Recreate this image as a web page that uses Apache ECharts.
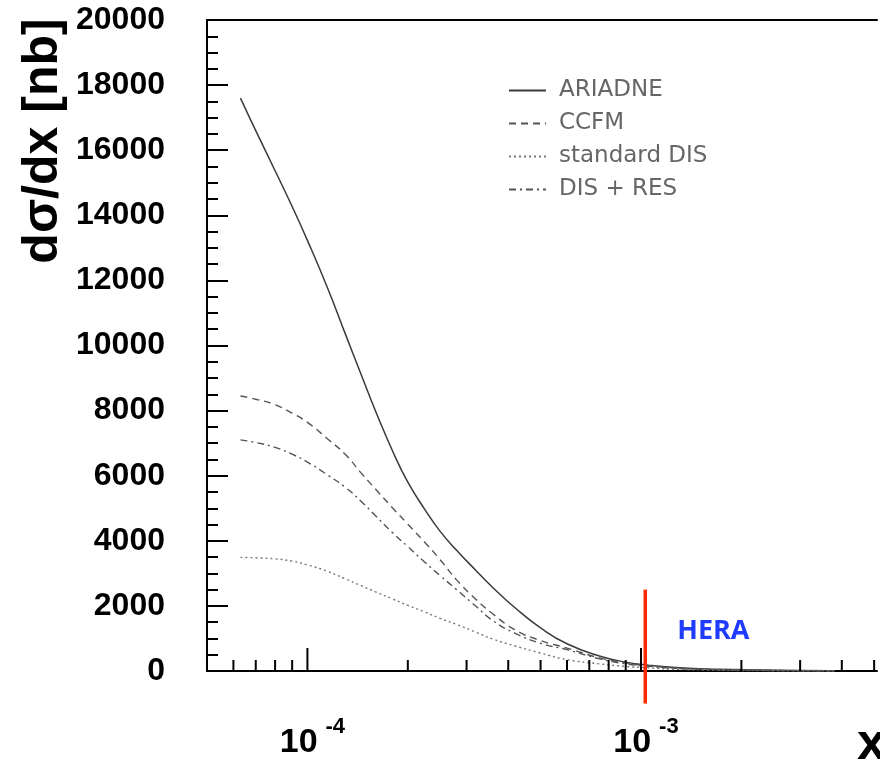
<!DOCTYPE html>
<html>
<head>
<meta charset="utf-8">
<script src="https://cdn.jsdelivr.net/npm/echarts@6/dist/echarts.min.js"></script>
<style>
  html, body { margin: 0; padding: 0; background: #fff; }
  #chart { width: 880px; height: 775px; }
</style>
</head>
<body>
<div id="chart"></div>
<script>
// x values (Bjorken x) shared by all four curves
var xValues = [6.3e-5, 7e-5, 8e-5, 9e-5, 1e-4, 1.15e-4, 1.3e-4, 1.45e-4, 1.6e-4, 1.8e-4,
  2e-4, 2.25e-4, 2.5e-4, 2.8e-4, 3.2e-4, 3.6e-4, 4.2e-4, 5e-4, 6e-4, 7.5e-4,
  9e-4, 1.05e-3, 1.3e-3, 1.7e-3, 2.3e-3, 3e-3, 3.8e-3];

// dsigma/dx [nb]
var ariadne = [17600, 16600, 15370, 14270, 13230, 11760, 10350, 9100, 7990, 6760,
  5800, 4960, 4290, 3710, 3090, 2560, 1935, 1325, 836, 461,
  273, 180, 100, 55, 30, 15, 8];
var ccfm = [8450, 8350, 8180, 7920, 7640, 7130, 6650, 6080, 5590, 5010,
  4510, 3950, 3420, 2800, 2200, 1750, 1260, 935, 705, 405,
  250, 160, 80, 40, 20, 10, 5];
var standardDis = [3490, 3478, 3445, 3375, 3260, 3060, 2830, 2620, 2432, 2213,
  2015, 1812, 1615, 1430, 1192, 980, 768, 552, 350, 220,
  140, 95, 50, 25, 12, 6, 3];
var disRes = [7100, 7020, 6870, 6660, 6420, 6020, 5640, 5210, 4770, 4250,
  3820, 3340, 2930, 2500, 1990, 1545, 1157, 850, 655, 375,
  220, 145, 75, 38, 18, 9, 5];

// HERA marker
var heraX = 1.03e-3;
var heraRange = [-1000, 2500];

// x axis tick positions (log axis)
var majorTicks = [1e-4, 1e-3];
var minorTicks = [6e-5, 7e-5, 8e-5, 9e-5,
  2e-4, 3e-4, 4e-4, 5e-4, 6e-4, 7e-4, 8e-4, 9e-4,
  2e-3, 3e-3, 4e-3, 5e-3];

function pairs(ys) {
  return xValues.map(function (x, i) { return [x, ys[i]]; });
}

function tickSeries(values, len) {
  return {
    type: 'custom',
    xAxisIndex: 0,
    yAxisIndex: 0,
    silent: true,
    z: 5,
    data: values.map(function (v) { return [v, 0]; }),
    renderItem: function (params, api) {
      var p = api.coord([api.value(0), 0]);
      return {
        type: 'line',
        shape: { x1: p[0], y1: p[1], x2: p[0], y2: p[1] - len },
        style: { stroke: '#000', lineWidth: 2 }
      };
    }
  };
}

var chart = echarts.init(document.getElementById('chart'));

chart.setOption({
  animation: false,
  backgroundColor: '#fff',
  grid: { left: 207, top: 20, right: 0, bottom: 104 },
  legend: {
    orient: 'vertical',
    left: 503,
    top: 74,
    itemWidth: 37,
    itemHeight: 14,
    itemGap: 10,
    data: ['ARIADNE', 'CCFM', 'standard DIS', 'DIS + RES'],
    itemStyle: { color: 'rgba(0,0,0,0)', borderWidth: 0, opacity: 0 },
    textStyle: { fontFamily: 'DejaVu Sans', fontSize: 23, color: '#666', padding: [0, 0, 0, 8] }
  },
  xAxis: [{
    type: 'log',
    logBase: 10,
    min: 5e-5,
    max: 5.1e-3,
    axisLine: { lineStyle: { color: '#000', width: 2 } },
    axisTick: { show: false },
    splitLine: { show: false },
    axisLabel: {
      margin: 45,
      padding: [0, 0, 0, 10],
      formatter: function (v) {
        var e = Math.round(Math.log10(v));
        if (Math.abs(Math.log10(v) - e) > 1e-6 || e > -3) return '';
        return '{b|10}{s|' + e + '}';
      },
      rich: {
        b: { fontFamily: 'Liberation Sans', fontWeight: 'bold', fontSize: 34, color: '#000', verticalAlign: 'bottom' },
        s: { fontFamily: 'Liberation Sans', fontWeight: 'bold', fontSize: 22, color: '#000', padding: [0, 0, 22, 8], verticalAlign: 'bottom' }
      }
    }
  }, {
    type: 'value',
    position: 'top',
    min: 0,
    max: 1,
    axisLine: { show: true, onZero: false, lineStyle: { color: '#000', width: 2 } },
    axisTick: { show: false },
    axisLabel: { show: false },
    splitLine: { show: false }
  }],
  yAxis: {
    type: 'value',
    min: 0,
    max: 20000,
    interval: 2000,
    axisLine: { show: true, lineStyle: { color: '#000', width: 2 } },
    axisTick: { inside: true, length: 21, lineStyle: { color: '#000', width: 2 } },
    minorTick: { show: true, splitNumber: 4, length: 11, lineStyle: { color: '#000', width: 2 } },
    splitLine: { show: false },
    axisLabel: {
      margin: 42,
      formatter: function (v) { return String(v); },
      fontFamily: 'Liberation Sans',
      fontWeight: 'bold',
      fontSize: 32,
      color: '#000'
    }
  },
  series: [
    {
      name: 'ARIADNE', type: 'line', smooth: true, symbol: 'none',
      data: pairs(ariadne),
      itemStyle: { color: '#3a3a3a' },
      lineStyle: { color: '#3a3a3a', width: 1.5, type: 'solid' }
    },
    {
      name: 'CCFM', type: 'line', smooth: true, symbol: 'none',
      data: pairs(ccfm),
      itemStyle: { color: '#555' },
      lineStyle: { color: '#555', width: 1.4, type: [7, 5] }
    },
    {
      name: 'standard DIS', type: 'line', smooth: true, symbol: 'none',
      data: pairs(standardDis),
      itemStyle: { color: '#777' },
      lineStyle: { color: '#777', width: 1.4, type: [2, 3] }
    },
    {
      name: 'DIS + RES', type: 'line', smooth: true, symbol: 'none',
      data: pairs(disRes),
      itemStyle: { color: '#555' },
      lineStyle: { color: '#555', width: 1.4, type: [7, 4, 2, 4] }
    },
    {
      name: 'HERA', type: 'line', symbol: 'none', clip: false, z: 6,
      data: [[heraX, heraRange[0]], [heraX, heraRange[1]]],
      lineStyle: { color: '#ff2a00', width: 3.5 },
      endLabel: {
        show: true,
        formatter: 'HERA',
        offset: [24, 42],
        fontFamily: 'Open Sans',
        fontWeight: 'bold',
        fontSize: 27,
        color: '#1f3cff'
      }
    },
    tickSeries(majorTicks, 23),
    tickSeries(minorTicks, 11)
  ],
  graphic: [
    {
      type: 'text',
      x: 43,
      y: 141,
      rotation: Math.PI / 2,
      style: {
        text: 'dσ/dx [nb]',
        font: 'bold 50px "Liberation Sans"',
        fill: '#000',
        align: 'center',
        verticalAlign: 'middle'
      }
    },
    {
      type: 'text',
      x: 857,
      y: 771,
      style: {
        text: 'x',
        font: 'bold 52px "Liberation Sans"',
        fill: '#000',
        align: 'left',
        verticalAlign: 'bottom'
      }
    }
  ]
});
</script>
</body>
</html>
